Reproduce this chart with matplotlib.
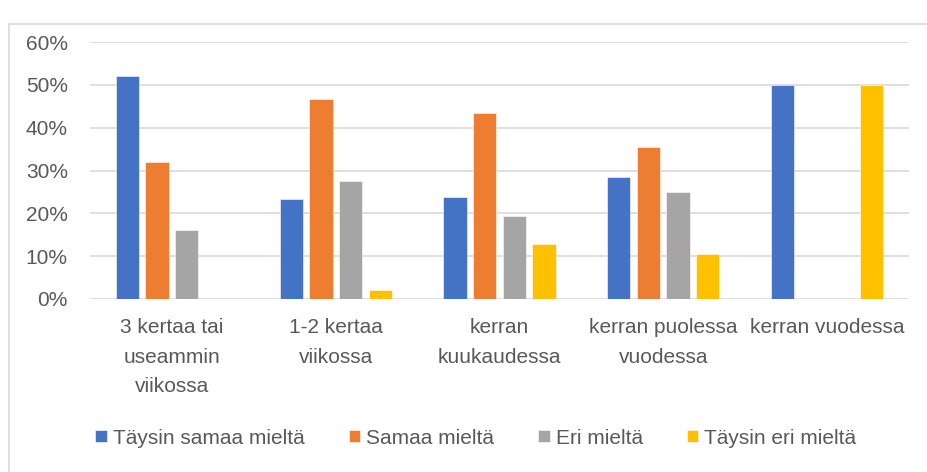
import numpy as np
import matplotlib
matplotlib.use('Agg')
import matplotlib.pyplot as plt
from matplotlib.patches import Rectangle
from matplotlib.ticker import PercentFormatter

plt.rcParams['font.family'] = ['Liberation Sans', 'DejaVu Sans']

categories = ['3 kertaa tai\nuseammin\nviikossa', '1-2 kertaa\nviikossa', 'kerran\nkuukaudessa',
              'kerran puolessa\nvuodessa', 'kerran vuodessa']
series = ['Täysin samaa mieltä', 'Samaa mieltä', 'Eri mieltä', 'Täysin eri mieltä']
taysin_samaa = [0.52, 0.233, 0.238, 0.284, 0.50]
samaa = [0.32, 0.467, 0.434, 0.356, 0.0]
eri = [0.16, 0.275, 0.194, 0.249, 0.0]
taysin_eri = [0.0, 0.02, 0.129, 0.105, 0.50]
colors = ['#4472C4', '#ED7D31', '#A5A5A5', '#FFC000']
text_color = '#595959'

fig = plt.figure(figsize=(9.28, 4.72), dpi=100)
ax = fig.add_axes([90 / 928, 173 / 472, 819 / 928, 257 / 472])

x = np.arange(len(categories))
width = 0.142
step = 0.181
for i, (vals, name, c) in enumerate(zip([taysin_samaa, samaa, eri, taysin_eri], series, colors)):
    ax.bar(x + (i - 1.5) * step, vals, width, color=c, label=name, zorder=3,
           edgecolor='white', linewidth=0.4)

ax.set_xlim(-0.5, len(categories) - 0.5)
ax.set_ylim(0, 0.6)
ax.set_yticks(np.arange(0, 0.61, 0.1))
ax.yaxis.set_major_formatter(PercentFormatter(1.0, decimals=0))
ax.grid(axis='y', color='#d9d9d9', linewidth=1.2, zorder=0)
for s in ax.spines.values():
    s.set_visible(False)
ax.tick_params(axis='both', length=0, colors=text_color, labelsize=15)
ax.tick_params(axis='y', pad=16)
ax.tick_params(axis='x', pad=14)
ax.set_xticks(x)
ax.set_xticklabels(categories, linespacing=1.68)

handles, labels = ax.get_legend_handles_labels()
fig.legend(handles, labels, loc='center', bbox_to_anchor=(476 / 928, 1 - 438 / 472), ncol=4,
           frameon=False, fontsize=15, labelcolor=text_color, handlelength=0.55,
           handleheight=0.55, handletextpad=0.3, columnspacing=2.1)

# chart area outline
fig.patches.append(Rectangle((9 / 928, -0.1), 1.1, 1 - 24 / 472 + 0.1, transform=fig.transFigure,
                             fill=False, edgecolor='#d9d9d9', linewidth=1.2))

fig.savefig('out.png', dpi=100)
